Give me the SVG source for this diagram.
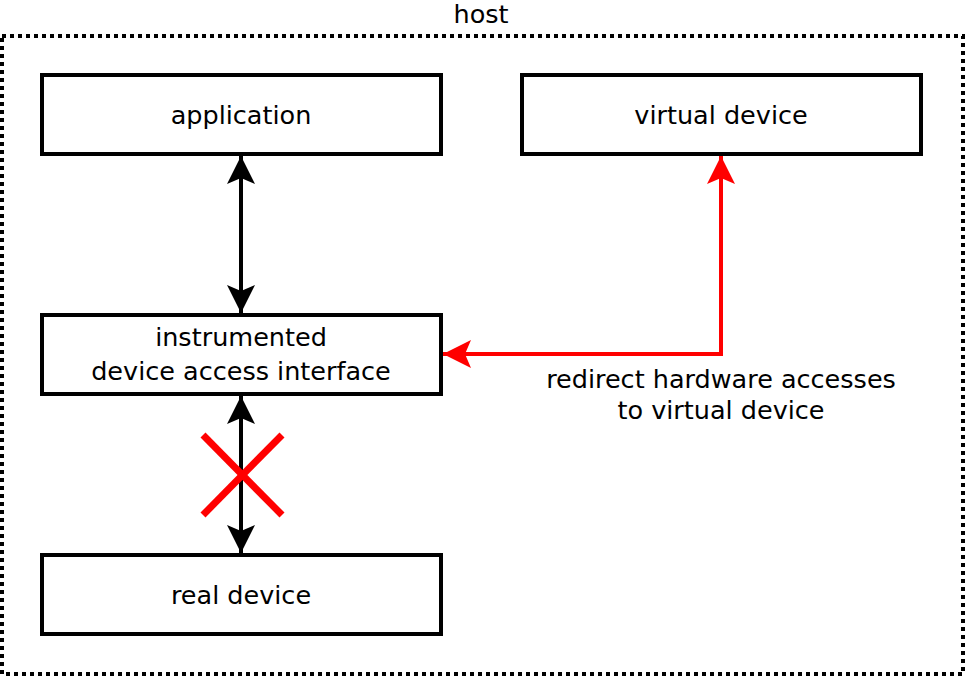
<svg xmlns="http://www.w3.org/2000/svg" width="966" height="678" viewBox="0 0 966 678">
<style>
.box{fill:#fff;stroke:#000;stroke-width:4}
text{font-family:"DejaVu Sans",sans-serif;font-size:25.5px;text-anchor:middle;fill:#000}
.blk{stroke:#000;stroke-width:4;fill:none}
.red{stroke:#f00;stroke-width:4;fill:none}
</style>
<defs>
<marker id="ab" viewBox="0 0 28 28" refX="28" refY="14" markerWidth="28" markerHeight="28" markerUnits="userSpaceOnUse" orient="auto-start-reverse">
<path d="M0,0 L28,14 L0,28 L6,14 Z" fill="#000"/>
</marker>
<marker id="ar" viewBox="0 0 28 28" refX="28" refY="14" markerWidth="28" markerHeight="28" markerUnits="userSpaceOnUse" orient="auto-start-reverse">
<path d="M0,0 L28,14 L0,28 L6,14 Z" fill="#f00"/>
</marker>
</defs>
<rect width="966" height="678" fill="#fff"/>
<g id="host">
<rect x="2" y="36" width="961" height="638" fill="none" stroke="#000" stroke-width="4" stroke-dasharray="4 4"/>
<text x="481" y="23">host</text>
</g>
<g id="application">
<rect class="box" x="42" y="75" width="399" height="79"/>
<text x="241" y="124">application</text>
</g>
<g id="virtual-device">
<rect class="box" x="522" y="75" width="399" height="79"/>
<text x="721" y="124">virtual device</text>
</g>
<g id="interface">
<rect class="box" x="42" y="315" width="399" height="79"/>
<text x="241" y="346">instrumented</text>
<text x="241" y="380">device access interface</text>
</g>
<g id="real-device">
<rect class="box" x="42" y="555" width="399" height="79"/>
<text x="241" y="604">real device</text>
</g>
<g id="connectors">
<line class="blk" x1="241" y1="156" x2="241" y2="313" marker-start="url(#ab)" marker-end="url(#ab)"/>
<line class="blk" x1="241" y1="396" x2="241" y2="553" marker-start="url(#ab)" marker-end="url(#ab)"/>
<polyline class="red" points="721,156 721,354 443,354" marker-start="url(#ar)" marker-end="url(#ar)"/>
<line x1="203" y1="435" x2="282" y2="515" stroke="#f00" stroke-width="7"/>
<line x1="282" y1="435" x2="203" y2="515" stroke="#f00" stroke-width="7"/>
<text x="721" y="388">redirect hardware accesses</text>
<text x="721" y="419">to virtual device</text>
</g>
</svg>
